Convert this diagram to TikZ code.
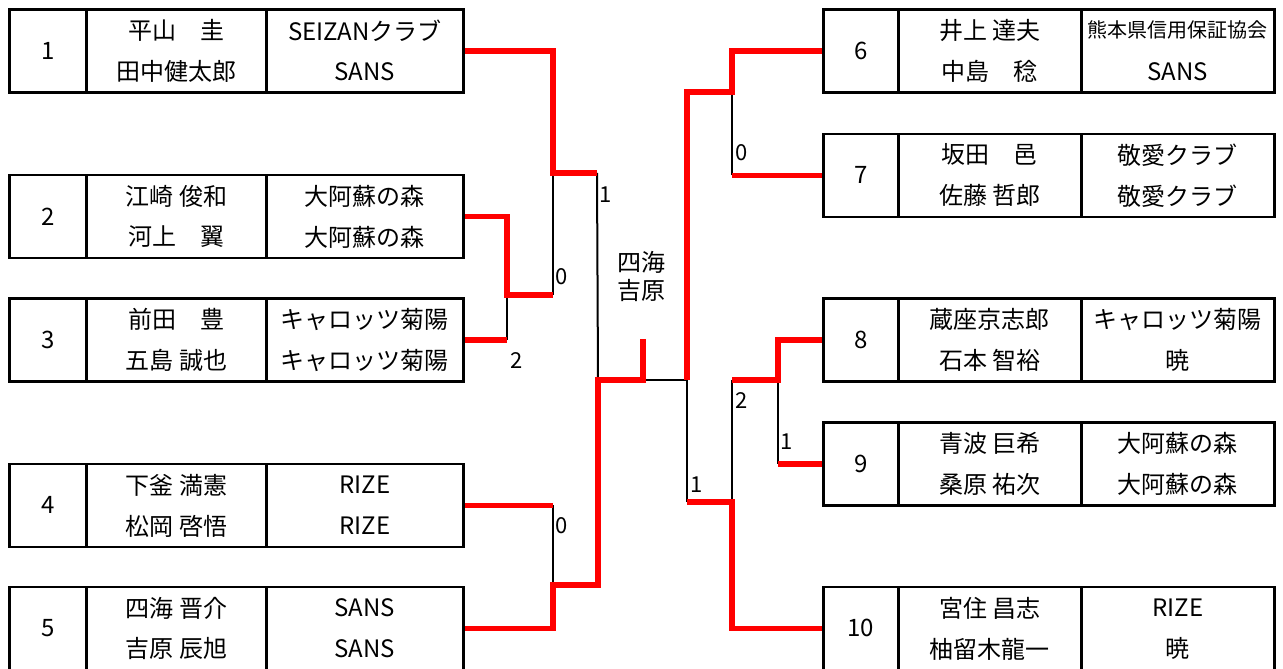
\documentclass[tikz,border=0pt]{standalone}
\usepackage{fontspec}
\setmainfont{Noto Sans CJK JP}
\definecolor{winred}{RGB}{255,0,0}
\tikzset{
  cell/.style={draw, line width=2.8pt, minimum height=83pt, inner sep=0pt, anchor=north west},
  txt/.style={font=\fontsize{24}{28}\selectfont, inner sep=0pt},
  smalltxt/.style={font=\fontsize{20}{24}\selectfont, inner sep=0pt},
  score/.style={font=\fontsize{22}{26}\selectfont, inner sep=0pt},
  win/.style={draw=winred, line width=5.5pt},
  lose/.style={draw=black, line width=2pt},
}
\newcommand{\celltexts}[6]{%
  \node[txt] (#1num) at (#1a) {#2};
  \node[txt, yshift=20.5pt] (#1nA) at (#1b) {#3};
  \node[txt, yshift=-20.5pt] (#1nB) at (#1b) {#4};
  \node[txt, yshift=20.5pt] (#1cA) at (#1c) {#5};
  \node[txt, yshift=-20.5pt] (#1cB) at (#1c) {#6};
}
\newcommand{\leftteam}[7]{%
  \node[cell, minimum width=77pt] (#1a) at (8,#2) {};
  \node[cell, minimum width=180pt] (#1b) at (85,#2) {};
  \node[cell, minimum width=197pt] (#1c) at (265,#2) {};
  \celltexts{#1}{#3}{#4}{#5}{#6}{#7}%
}
\newcommand{\rightteam}[7]{%
  \node[cell, minimum width=75pt] (#1a) at (822,#2) {};
  \node[cell, minimum width=183pt] (#1b) at (897,#2) {};
  \node[cell, minimum width=193pt] (#1c) at (1080,#2) {};
  \celltexts{#1}{#3}{#4}{#5}{#6}{#7}%
}
\begin{document}
\begin{tikzpicture}[x=1pt,y=-1pt]
\useasboundingbox[fill=white] (0,0) rectangle (1283,669);
% left teams
\leftteam{b1}{8}{1}{平山　圭}{田中健太郎}{SEIZANクラブ}{SANS}
\leftteam{b2}{173.5}{2}{江崎 俊和}{河上　翼}{大阿蘇の森}{大阿蘇の森}
\leftteam{b3}{297}{3}{前田　豊}{五島 誠也}{キャロッツ菊陽}{キャロッツ菊陽}
\leftteam{b4}{462.5}{4}{下釜 満憲}{松岡 啓悟}{RIZE}{RIZE}
\leftteam{b5}{585.5}{5}{四海 晋介}{吉原 辰旭}{SANS}{SANS}
% right teams
\node[cell, minimum width=75pt] (b6a) at (822,8) {};
\node[cell, minimum width=183pt] (b6b) at (897,8) {};
\node[cell, minimum width=193pt] (b6c) at (1080,8) {};
\node[txt] (b6num) at (b6a) {6};
\node[txt, yshift=20.5pt] (b6nA) at (b6b) {井上 達夫};
\node[txt, yshift=-20.5pt] (b6nB) at (b6b) {中島　稔};
\node[smalltxt, yshift=20.5pt] (b6cA) at (b6c) {熊本県信用保証協会};
\node[txt, yshift=-20.5pt] (b6cB) at (b6c) {SANS};
\rightteam{b7}{132.5}{7}{坂田　邑}{佐藤 哲郎}{敬愛クラブ}{敬愛クラブ}
\rightteam{b8}{297}{8}{蔵座京志郎}{石本 智裕}{キャロッツ菊陽}{暁}
\rightteam{b9}{421}{9}{青波 巨希}{桑原 祐次}{大阿蘇の森}{大阿蘇の森}
\rightteam{b10}{585.5}{10}{宮住 昌志}{柚留木龍一}{RIZE}{暁}
% junction coordinates
\coordinate (A1) at (553,173);
\coordinate (A2) at (597,173);
\coordinate (B1) at (507,295);
\coordinate (B2) at (553,295);
\coordinate (C1) at (553,585);
\coordinate (C2) at (598,585);
\coordinate (F1) at (598,380);
\coordinate (F2) at (643,380);
\coordinate (F3) at (643,339);
\coordinate (M) at (687,380);
\coordinate (D1) at (732,92);
\coordinate (D2) at (687,92);
\coordinate (E1) at (778,380);
\coordinate (E2) at (732,380);
\coordinate (G1) at (732,502);
\coordinate (G2) at (687,502);
% losing lines
\draw[lose] (b3c.east -| B1) -- (B1);
\draw[lose] (B2) -- (A1);
\draw[lose] (A2) -- (F1);
\draw[lose] (b4c.east -| C1) -- (C1);
\draw[lose] (F2) -- (M);
\draw[lose] (b7a.west -| D1) -- (D1);
\draw[lose] (E2) -- (G1);
\draw[lose] (b9a.west -| E1) -- (E1);
\draw[lose] (G2) -- (M);
% winning lines
\draw[win] (b1c.east) -| (A1) -- (A2);
\draw[win] (b2c.east) -| (B1) -- (B2);
\draw[win] (b3c.east) -- (b3c.east -| B1);
\draw[win] (b4c.east) -- (b4c.east -| C1);
\draw[win] (b5c.east) -| (C1) -- (C2) -- (F1) -- (F2) -- (F3);
\draw[win] (b6a.west) -| (D1) -- (D2) -- (M);
\draw[win] (b7a.west) -- (b7a.west -| D1);
\draw[win] (b8a.west) -| (E1) -- (E2);
\draw[win] (b9a.west) -- (b9a.west -| E1);
\draw[win] (b10a.west) -| (G1) -- (G2);
% scores
\node[score] (s1) at (606,195) {1};
\node[score] (s2) at (562,277) {0};
\node[score] (s3) at (517,361) {2};
\node[score] (s4) at (562,526) {0};
\node[score] (s7) at (742,153) {0};
\node[score] (s8) at (742,401) {2};
\node[score] (s9) at (787,442) {1};
\node[score] (s10) at (697,485) {1};
% champion
\node[txt, align=center] (champ) at (641,276) {四海\\吉原};
\end{tikzpicture}
\end{document}
